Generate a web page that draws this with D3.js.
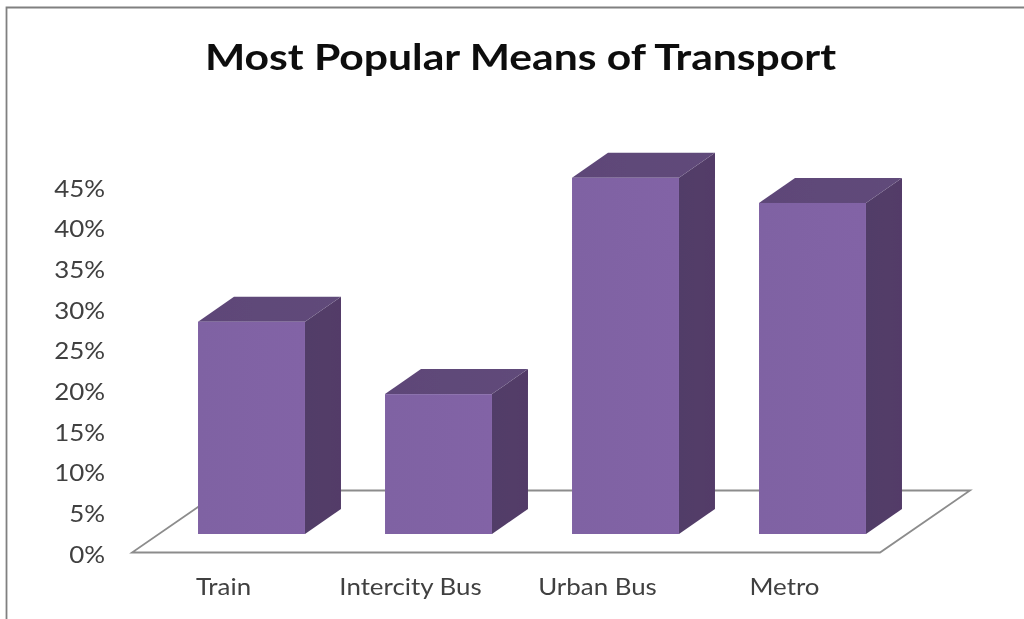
<!DOCTYPE html>
<html><head><meta charset="utf-8">
<script src="https://cdn.jsdelivr.net/npm/d3@7/dist/d3.min.js"></script>
<style>html,body{margin:0;padding:0;background:#fff}svg{display:block}</style>
</head><body><svg id="c" width="1024" height="619"></svg>
<script>
const title = "Most Popular Means of Transport";
const categories = ["Train","Intercity Bus","Urban Bus","Metro"];
const values = [26.1,17.2,43.8,40.7];
const yTicks = [0,5,10,15,20,25,30,35,40,45];

const svg = d3.select("#c");
const font = "Lato, 'Open Sans', sans-serif";
const depthX = 36, depthY = -25, baseLift = 19, barShift = 26;
const floorBackX = 90, floorBackY = -62;

const x = d3.scaleBand().domain(categories).range([132,880]).paddingInner(0.428).paddingOuter(0.214);
const y = d3.scaleLinear().domain([0,45]).range([553,187]);

const defs = svg.append("defs");
defs.append("filter").attr("id","soft").attr("x","-2%").attr("y","-2%").attr("width","104%").attr("height","104%")
  .append("feGaussianBlur").attr("stdDeviation",0.5);
const root = svg.append("g").attr("filter","url(#soft)");

// stretch text horizontally, as in the reference
const stretch = (sel,k)=>sel.each(function(){
  d3.select(this).attr("textLength",this.getComputedTextLength()*k).attr("lengthAdjust","spacingAndGlyphs");
});

// chart frame
root.append("path").attr("d","M6.5,619V7.5H1024").attr("fill","none").attr("stroke","#808080").attr("stroke-width",1.8);

root.append("text").attr("x",520.5).attr("y",70).attr("text-anchor","middle")
  .attr("font-family",font).attr("font-weight",700).attr("font-size",37).attr("fill","#0d0d0d").text(title)
  .call(stretch,1.152);

// floor
const f0 = y(0)-0.5;
root.append("path")
  .attr("d",`M${x.range()[0]},${f0}L${x.range()[1]},${f0}L${x.range()[1]+floorBackX},${f0+floorBackY}L${x.range()[0]+floorBackX},${f0+floorBackY}Z`)
  .attr("fill","#fff").attr("stroke","#8c8c8c").attr("stroke-width",1.8);

// axes
const yAxis = d3.axisLeft(y).tickValues(yTicks).tickFormat(d=>d+"%").tickSize(0).tickPadding(0);
const gy = root.append("g").attr("transform","translate(105,1.5)").call(yAxis);
gy.select(".domain").remove();
gy.selectAll("text").attr("font-family",font).attr("font-size",24).attr("fill","#404040").call(stretch,1.08);

const xAxis = d3.axisBottom(x).tickSize(0).tickPadding(0);
const gx = root.append("g").attr("transform","translate(-2,579)").call(xAxis);
gx.select(".domain").remove();
gx.selectAll("text").attr("font-family",font).attr("font-size",22.5).attr("fill","#404040").call(stretch,1.15);

// bars
const lin = (id,c1,c2)=>{const g=defs.append("linearGradient").attr("id",id).attr("x1",0).attr("x2",1).attr("y1",0).attr("y2",0);
  g.append("stop").attr("offset",0).attr("stop-color",c1);g.append("stop").attr("offset",1).attr("stop-color",c2);};
lin("front","#7f62a3","#8263a6");
lin("side","#513e68","#533b68");
lin("top","#5d4678","#614b7a");

const bars = root.selectAll("g.bar").data(categories.map((c,i)=>({c,v:values[i]}))).join("g").attr("class","bar");
const xl = d=>x(d.c)+barShift, xr = d=>xl(d)+x.bandwidth();
const yb = y(0)-baseLift;
const yt = d=>y(d.v)-baseLift;
bars.append("path").attr("fill","url(#side)")
  .attr("d",d=>`M${xr(d)},${yt(d)}L${xr(d)+depthX},${yt(d)+depthY}L${xr(d)+depthX},${yb+depthY}L${xr(d)},${yb}Z`);
bars.append("path").attr("fill","url(#top)")
  .attr("d",d=>`M${xl(d)},${yt(d)}L${xl(d)+depthX},${yt(d)+depthY}L${xr(d)+depthX},${yt(d)+depthY}L${xr(d)},${yt(d)}Z`);
bars.append("rect").attr("fill","url(#front)")
  .attr("x",xl).attr("y",yt).attr("width",x.bandwidth()).attr("height",d=>yb-yt(d));
</script></body></html>
